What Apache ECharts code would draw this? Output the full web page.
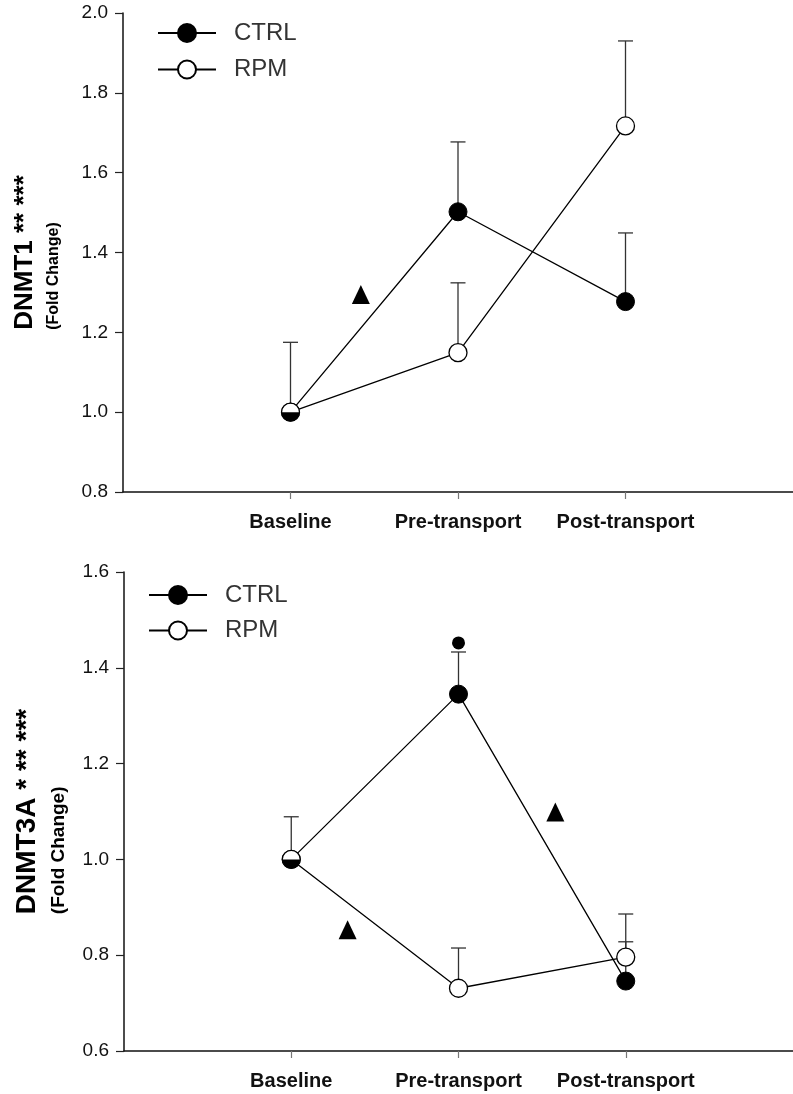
<!DOCTYPE html>
<html><head><meta charset="utf-8">
<script src="https://cdn.jsdelivr.net/npm/echarts@6/dist/echarts.min.js"></script>
<style>html,body{margin:0;padding:0;background:#fff}#c{width:793px;height:1094px}</style>
</head><body><div id="c"></div>
<script>
// ---------- data ----------
const categories = ['Baseline', 'Pre-transport', 'Post-transport'];
const xPositions = [1, 2, 3];

// DNMT1 (top panel)
const dnmt1Ticks = [0.8, 1.0, 1.2, 1.4, 1.6, 1.8, 2.0];
const dnmt1Ctrl = [1.0, 1.502, 1.277];
const dnmt1Rpm = [1.0, 1.149, 1.717];
const dnmt1CtrlErrTop = [null, 1.677, 1.449];
const dnmt1RpmErrTop = [1.175, 1.324, 1.93];
const dnmt1Triangles = [[1.42, 1.295]];
const dnmt1Dots = [];

// DNMT3A (bottom panel)
const dnmt3aTicks = [0.6, 0.8, 1.0, 1.2, 1.4, 1.6];
const dnmt3aCtrl = [1.0, 1.345, 0.746];
const dnmt3aRpm = [1.0, 0.731, 0.796];
const dnmt3aCtrlErrTop = [1.089, 1.433, 0.828];
const dnmt3aRpmErrTop = [null, 0.815, 0.886];
const dnmt3aTriangles = [[1.337, 0.853], [2.579, 1.099]];
const dnmt3aDots = [[2, 1.452]];

const panelTitles = [
  ['DNMT1 ** ***', '(Fold Change)'],
  ['DNMT3A * ** ***', '(Fold Change)']
];

// ---------- build ----------
const FONT = 'Liberation Sans, Arial, Helvetica, sans-serif';
const chart = echarts.init(document.getElementById('c'), null, {renderer: 'canvas'});

function pairs(vals) { return vals.map((v, i) => [xPositions[i], v]); }
function errData(means, tops) {
  const out = [];
  tops.forEach((t, i) => { if (t != null) out.push([xPositions[i], means[i], t]); });
  return out;
}
function errRender(params, api) {
  const x = api.value(0), lo = api.value(1), hi = api.value(2);
  const p0 = api.coord([x, lo]), p1 = api.coord([x, hi]);
  const hw = 7.5;
  const st = {stroke: '#333', lineWidth: 1.3};
  return {type: 'group', children: [
    {type: 'line', shape: {x1: p0[0], y1: p0[1], x2: p1[0], y2: p1[1]}, style: st},
    {type: 'line', shape: {x1: p1[0] - hw, y1: p1[1], x2: p1[0] + hw, y2: p1[1]}, style: st}
  ]};
}
function step(t) { return Math.round((t[1] - t[0]) * 1000) / 1000; }

const panels = [
  {ticks: dnmt1Ticks, ctrl: dnmt1Ctrl, rpm: dnmt1Rpm, ce: dnmt1CtrlErrTop, re: dnmt1RpmErrTop, tri: dnmt1Triangles, dots: dnmt1Dots,
   grid: {left: 123, top: 13, width: 672, height: 479}, legend: {left: 157, top: 21, gap: 12.5},
   title: {fa: 26, la: 36, fb: 16, lb: 22, gap: 58}},
  {ticks: dnmt3aTicks, ctrl: dnmt3aCtrl, rpm: dnmt3aRpm, ce: dnmt3aCtrlErrTop, re: dnmt3aRpmErrTop, tri: dnmt3aTriangles, dots: dnmt3aDots,
   grid: {left: 124, top: 572, width: 672, height: 479}, legend: {left: 148, top: 583, gap: 11.5},
   title: {fa: 28, la: 38, fb: 19, lb: 26, gap: 52}}
];

const option = {animation: false, backgroundColor: '#fff', grid: [], xAxis: [], yAxis: [], legend: [], series: []};

panels.forEach((p, i) => {
  option.grid.push(p.grid);
  option.xAxis.push({
    type: 'value', gridIndex: i, min: 0, max: 4, interval: 1,
    splitLine: {show: false},
    axisLine: {lineStyle: {color: '#111', width: 1.5}},
    axisTick: {show: true, length: 7, lineStyle: {color: '#777', width: 1.2}, customValues: xPositions},
    axisLabel: {customValues: xPositions, margin: 20, fontFamily: FONT, fontSize: 20, fontWeight: 'bold', color: '#111',
      formatter: v => categories[xPositions.indexOf(v)] || ''}
  });
  option.yAxis.push({
    type: 'value', gridIndex: i, min: p.ticks[0], max: p.ticks[p.ticks.length - 1], interval: step(p.ticks),
    splitLine: {show: false},
    axisLine: {show: true, lineStyle: {color: '#111', width: 1.5}},
    axisTick: {show: true, length: 8, lineStyle: {color: '#222', width: 1.2}},
    axisLabel: {margin: 15, fontFamily: FONT, fontSize: 19, color: '#111', formatter: v => v.toFixed(1)},
    name: '{a|' + panelTitles[i][0] + '}\n{b|' + panelTitles[i][1] + '}',
    nameLocation: 'middle', nameRotate: 90, nameGap: p.title.gap,
    nameTextStyle: {rich: {
      a: {fontFamily: FONT, fontSize: p.title.fa, fontWeight: 'bold', color: '#000', lineHeight: p.title.la, align: 'left'},
      b: {fontFamily: FONT, fontSize: p.title.fb, fontWeight: 'bold', color: '#000', lineHeight: p.title.lb, align: 'left'}
    }}
  });
  option.legend.push({
    orient: 'vertical', left: p.legend.left, top: p.legend.top, padding: 0,
    itemWidth: 58, itemHeight: 22.5, itemGap: p.legend.gap,
    data: ['CTRL', 'RPM'], selectedMode: false,
    textStyle: {fontFamily: FONT, fontSize: 24, color: '#333', padding: [0, 0, 0, 13]}
  });
  const ctrlErr = errData(p.ctrl, p.ce), rpmErr = errData(p.rpm, p.re);
  option.series.push({
    type: 'custom', xAxisIndex: i, yAxisIndex: i, renderItem: errRender,
    data: ctrlErr.concat(rpmErr), encode: {x: 0, y: [1, 2]}, z: 1, silent: true
  });
  option.series.push({
    name: 'CTRL', type: 'line', xAxisIndex: i, yAxisIndex: i, data: pairs(p.ctrl),
    symbol: 'circle', symbolSize: 18, z: 2,
    lineStyle: {color: '#000', width: 1.3},
    itemStyle: {color: '#000', borderColor: '#000', borderWidth: 1}
  });
  option.series.push({
    name: 'RPM', type: 'line', xAxisIndex: i, yAxisIndex: i, data: pairs(p.rpm),
    symbol: 'circle', symbolSize: 18, z: 3,
    lineStyle: {color: '#000', width: 1.3},
    itemStyle: {color: '#fff', borderColor: '#000', borderWidth: 1.3}
  });
  // baseline: both groups coincide -> half-filled circle (lower half = CTRL)
  option.series.push({
    type: 'scatter', xAxisIndex: i, yAxisIndex: i, data: [[xPositions[0], p.ctrl[0]]],
    symbol: 'path://M0,0A1,1,0,0,0,2,0Z', symbolSize: [18, 9], symbolOffset: [0, 4.5],
    itemStyle: {color: '#000', opacity: 1}, z: 4, silent: true
  });
  option.series.push({
    type: 'scatter', xAxisIndex: i, yAxisIndex: i, data: p.tri,
    symbol: 'triangle', symbolSize: [18, 19], itemStyle: {color: '#000', opacity: 1}, z: 4, silent: true
  });
  if (p.dots.length) option.series.push({
    type: 'scatter', xAxisIndex: i, yAxisIndex: i, data: p.dots,
    symbol: 'circle', symbolSize: 13, itemStyle: {color: '#000', opacity: 1}, z: 4, silent: true
  });
});

chart.setOption(option);
</script>
</body></html>
